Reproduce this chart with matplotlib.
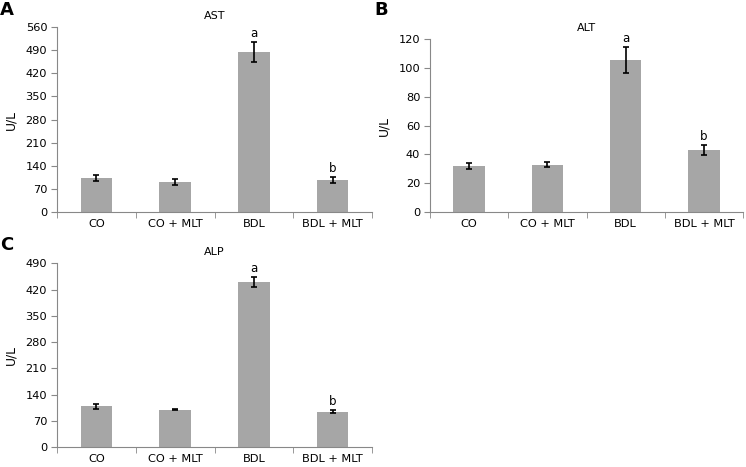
import matplotlib.pyplot as plt

groups = ["CO", "CO + MLT", "BDL", "BDL + MLT"]

ast_mean = [103, 91, 485, 97]
ast_err = [10, 8, 30, 8]
alt_mean = [32, 33, 105.5, 43]
alt_err = [2, 2, 9, 3.5]
alp_mean = [109, 100, 440, 94]
alp_err = [7, 2, 13, 4]

sig_labels = ["", "", "a", "b"]

plt.rcParams["font.family"] = ["Verdana", "DejaVu Sans"]
plt.rcParams["font.size"] = 8.2

fig = plt.figure(figsize=(7.46, 4.67), dpi=100)


def panel(rect, title, means, errs, ymax, step):
    ax = fig.add_axes(rect)
    x = range(len(groups))
    ax.bar(x, means, width=0.4, color="#a6a6a6")
    ax.errorbar(x, means, yerr=errs, fmt="none", ecolor="black",
                elinewidth=1.2, capsize=2.2, capthick=1.2)
    for i, lab in enumerate(sig_labels):
        if lab:
            ax.text(i, means[i] + errs[i] + ymax * 0.012, lab,
                    ha="center", va="bottom", fontsize=8.5)
    ax.set_xlim(-0.5, len(groups) - 0.5)
    ax.set_ylim(0, ymax)
    ax.set_yticks(range(0, ymax + 1, step))
    ax.set_xticks(list(x))
    ax.set_xticklabels(groups)
    ax.set_xticks([i - 0.5 for i in range(len(groups) + 1)], minor=True)
    ax.tick_params(axis="x", which="major", length=0, pad=5)
    ax.tick_params(axis="x", which="minor", length=4, color="#888888")
    ax.tick_params(axis="y", length=4, color="#888888", pad=3)
    for s in ["top", "right"]:
        ax.spines[s].set_visible(False)
    for s in ["left", "bottom"]:
        ax.spines[s].set_color("#888888")
        ax.spines[s].set_linewidth(0.8)
    ax.set_ylabel("U/L", fontsize=8.8, labelpad=6)
    ax.set_title(title, fontsize=8, pad=6)
    return ax


panel([0.0764, 0.546, 0.4223, 0.396], "AST", ast_mean, ast_err, 560, 70)
panel([0.5764, 0.546, 0.4196, 0.37], "ALT", alt_mean, alt_err, 120, 20)
panel([0.0764, 0.0428, 0.4223, 0.3932], "ALP", alp_mean, alp_err, 490, 70)

fig.text(0.0, 0.998, "A", fontsize=13, fontweight="bold", va="top")
fig.text(0.502, 0.998, "B", fontsize=13, fontweight="bold", va="top")
fig.text(0.0, 0.494, "C", fontsize=13, fontweight="bold", va="top")

fig.savefig("out.png", dpi=100)
